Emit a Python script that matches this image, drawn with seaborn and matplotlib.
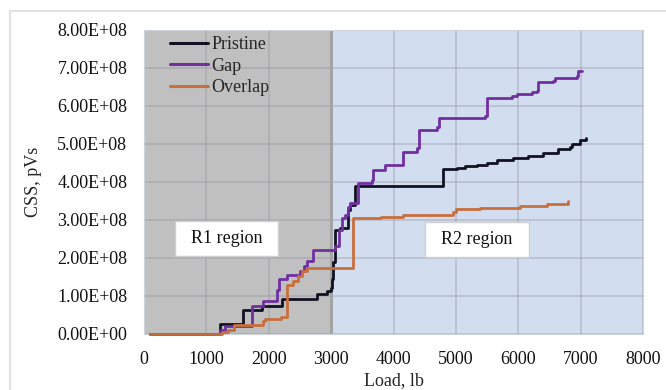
import numpy as np
import pandas as pd
import matplotlib
matplotlib.use("Agg")
import matplotlib.pyplot as plt
import seaborn as sns
from matplotlib.patches import Rectangle
from matplotlib.lines import Line2D
from matplotlib.ticker import FuncFormatter

# ---- data (load in lb, CSS in units of 1e8 pVs) ----
pristine_load = [100, 1218, 1592, 1886, 2207, 2768, 2930, 2990, 3008, 3034, 3066, 3140, 3275, 3302, 3383,
                 4799, 5012, 5146, 5333, 5494, 5654, 5921, 6161, 6402, 6642, 6830, 6857, 6990, 7086]
pristine_css = [0, 0.26, 0.62, 0.74, 0.93, 1.04, 1.12, 1.20, 1.45, 1.90, 2.74, 2.80, 3.26, 3.39, 3.89,
                4.33, 4.37, 4.43, 4.46, 4.50, 4.59, 4.62, 4.68, 4.76, 4.87, 4.92, 5.00, 5.11, 5.15]

gap_load = [1150, 1220, 1300, 1726, 1900, 2130, 2160, 2300, 2500, 2560, 2620, 2715, 3062, 3120, 3169,
            3222, 3270, 3302, 3436, 3650, 3676, 3864, 4157, 4371, 4413, 4690, 4734, 5467, 5504, 5895,
            5975, 6216, 6296, 6322, 6563, 6589, 6937, 6963, 7017]
gap_css = [0, 0.10, 0.20, 0.74, 0.87, 1.17, 1.46, 1.55, 1.66, 1.80, 1.92, 2.22, 2.31, 2.75, 3.05,
           3.14, 3.35, 3.45, 3.97, 4.06, 4.32, 4.46, 4.80, 4.89, 5.37, 5.45, 5.69, 5.75, 6.21, 6.27,
           6.32, 6.36, 6.40, 6.64, 6.67, 6.74, 6.78, 6.91, 6.91]

overlap_load = [100, 1250, 1350, 1440, 1900, 1940, 2200, 2288, 2394, 2474, 2528, 2608, 3346, 3800,
                4157, 4959, 5002, 5387, 6028, 6456, 6803]
overlap_css = [0, 0.04, 0.10, 0.25, 0.33, 0.39, 0.45, 1.28, 1.40, 1.53, 1.66, 1.74, 3.05, 3.08,
               3.14, 3.21, 3.29, 3.32, 3.38, 3.43, 3.49]

series_names = ["Pristine", "Gap", "Overlap"]
series_colors = ["#111122", "#7030A0", "#C8703C"]
x_ticks = list(range(0, 8001, 1000))
y_ticks = [i * 1e8 for i in range(0, 9)]
region_labels = ["R1 region", "R2 region"]
region_split = 3000

frames = []
for name, xs, ys in zip(series_names,
                        [pristine_load, gap_load, overlap_load],
                        [pristine_css, gap_css, overlap_css]):
    frames.append(pd.DataFrame({"Load": xs, "CSS": np.array(ys) * 1e8, "Series": name}))
df = pd.concat(frames, ignore_index=True)

# ---- style ----
sns.set_style("white")
plt.rcParams["font.family"] = ["Liberation Serif", "DejaVu Serif"]
FS = 13

fig = plt.figure(figsize=(6.66, 3.90), dpi=100)
ax = fig.add_axes([144 / 666, 1 - 334 / 390, 499 / 666, 304 / 390])

# outer chart border (top/left visible)
fig.add_artist(Rectangle((10.5 / 666, -0.2), 1.2, (390 - 10.5) / 390 + 0.2,
                         transform=fig.transFigure, fill=False,
                         edgecolor="#e2e2e2", linewidth=1.5))

ax.set_xlim(0, 8000)
ax.set_ylim(0, 8e8)
ax.axvspan(0, region_split, color="#c0c0c0", zorder=0, lw=0)
ax.axvspan(region_split, 8000, color="#d2ddef", zorder=0, lw=0)
ax.set_axisbelow(True)
ax.grid(True, color=(0.55, 0.55, 0.6), alpha=0.4, linewidth=1.1, zorder=0.5)
ax.axvline(region_split, color="#a4a4a4", linewidth=2.2, zorder=0.6)

sns.lineplot(data=df, x="Load", y="CSS", hue="Series", hue_order=series_names,
             palette=series_colors, estimator=None, drawstyle="steps-post",
             linewidth=2.0, ax=ax, legend=False, zorder=3, clip_on=False)

ax.set_xticks(x_ticks)
ax.set_yticks(y_ticks)
ax.yaxis.set_major_formatter(FuncFormatter(lambda v, p: "{:.2E}".format(v)))
ax.tick_params(axis="both", length=0, labelsize=FS, colors="#111111")
ax.tick_params(axis="y", pad=12)
ax.tick_params(axis="x", pad=12)

for s in ax.spines.values():
    s.set_visible(True)
    s.set_color("#cfd3da")
    s.set_linewidth(0.8)
    s.set_zorder(1)

ax.set_xlabel("Load, lb", fontsize=FS)
ax.set_ylabel("CSS, pVs", fontsize=FS)
ax.xaxis.set_label_coords(0.501, -0.152)
ax.yaxis.set_label_coords(-0.222, 0.5)
ax.xaxis.label.set(va="center", ha="center")
ax.yaxis.label.set(va="center", ha="center")

# region boxes
boxes = [(500, 2.05e8, 1650, 0.92e8), (4507, 2.02e8, 1668, 0.93e8)]
for (bx, by, bw, bh), lab in zip(boxes, region_labels):
    ax.add_patch(Rectangle((bx, by), bw, bh, facecolor="white", edgecolor="#d0d0d0",
                           linewidth=1.0, zorder=2))
    ax.text(bx + bw / 2, by + bh / 2, lab, ha="center", va="center", fontsize=FS,
            color="#111111", zorder=2.5)

# legend
handles = [Line2D([0], [0], color=c, linewidth=2.2) for c in series_colors]
ax.legend(handles, series_names, loc="upper left", bbox_to_anchor=(0.052, 0.98),
          frameon=False, fontsize=FS, borderpad=0, borderaxespad=0,
          handlelength=2.1, handletextpad=0.2, labelspacing=0.26)

fig.savefig("out.png", dpi=100)
